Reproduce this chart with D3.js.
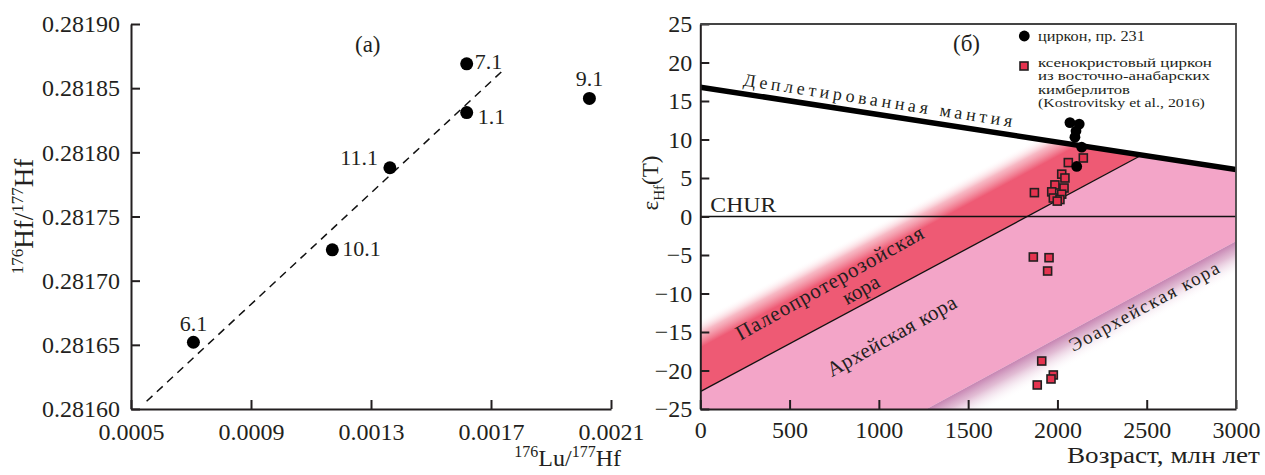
<!DOCTYPE html>
<html><head><meta charset="utf-8">
<script src="https://cdn.jsdelivr.net/npm/d3@7"></script>
<style>
html,body{margin:0;padding:0;background:#fff;}
svg{display:block;font-family:"Liberation Serif","Times New Roman",serif;}
</style></head>
<body>
<svg id="chart" width="1265" height="475"></svg>
<script>
// ---------- Panel (а): 176Lu/177Hf vs 176Hf/177Hf ----------
const spotLabels = ["6.1", "10.1", "11.1", "1.1", "7.1", "9.1"];
const luHf = [0.000708, 0.001171, 0.001363, 0.001619, 0.001619, 0.002028];
const hfHf = [0.281652, 0.281724, 0.281788, 0.281831, 0.281869, 0.281842];
const trendLu = [0.000552, 0.001736];
const trendHf = [0.281606, 0.281863];
const luTicks = [0.0005, 0.0009, 0.0013, 0.0017, 0.0021];
const hfTicks = [0.28160, 0.28165, 0.28170, 0.28175, 0.28180, 0.28185, 0.28190];

// ---------- Panel (б): age vs eHf(T) ----------
const zirconAge = [2070, 2122, 2104, 2098, 2136, 2108];
const zirconEps = [12.2, 12.0, 11.1, 10.3, 9.0, 6.5];
const xenoAge = [2145, 2061, 2024, 2042, 1986, 2037, 1871, 1968, 2024, 1977, 2014, 1999,
                 1865, 1953, 1945, 1912, 1977, 1964, 1887];
const xenoEps = [7.6, 7.0, 5.5, 5.0, 4.1, 3.7, 3.1, 3.2, 2.9, 2.4, 2.2, 2.0,
                 -5.26, -5.35, -7.08, -18.77, -20.58, -21.1, -21.88];
const dmAge = [0, 3000], dmEps = [16.8, 6.1];              // depleted mantle
const churAge = [0, 3000], churEps = [0, 0];              // CHUR
const archAge = [0, 2470], archEps = [-22.75, 7.95];      // Paleoproterozoic / Archean boundary
const eoAge = [1268, 3000], eoEps = [-25, -3.2];          // Archean / Eoarchean boundary
const paleoBandWidth = 9.5;                               // eHf units above Archean boundary
const eoBandWidth = 4.5;
const ageTicks = [0, 500, 1000, 1500, 2000, 2500, 3000];
const epsTicks = [-25, -20, -15, -10, -5, 0, 5, 10, 15, 20, 25];
const legendLabels = [["циркон, пр. 231"],
  ["ксенокристовый циркон", "из восточно-анабарских", "кимберлитов", "(Kostrovitsky et al., 2016)"]];
const regionLabels = ["Деплетированная мантия", "CHUR", "Палеопротерозойская", "кора", "Архейская кора", "Эоархейская кора"];

const ink = "#231f20";
const svg = d3.select("#chart");

function styleAxis(g) {
  g.selectAll("path.domain").attr("stroke", ink).attr("stroke-width", 2);
  g.selectAll(".tick line").attr("stroke", ink).attr("stroke-width", 2);
  g.selectAll(".tick text").attr("font-family", "Liberation Serif, serif").attr("font-size", 24).attr("fill", ink);
}
// text stretched horizontally to a measured width (left-anchored)
function fitText(parent, x, y, txt, size, width) {
  const g = parent.append("g");
  const t = g.append("text").attr("x", 0).attr("y", 0).attr("font-size", size).attr("fill", ink).text(txt);
  const w = t.node().getComputedTextLength() || width;
  g.attr("transform", `translate(${x},${y}) scale(${width / w},1)`);
  return t;
}

// ================= Panel (а) =================
const xL = d3.scaleLinear().domain([0.0005, 0.0021]).range([131, 611]);
const yL = d3.scaleLinear().domain([0.28160, 0.28190]).range([409, 24]);
const gL = svg.append("g");

gL.append("g").attr("transform", `translate(0,${yL.range()[0]})`)
  .call(d3.axisBottom(xL).tickValues(luTicks).tickFormat(d3.format(".4f")).tickSize(-9).tickSizeOuter(0).tickPadding(14))
  .call(styleAxis);
gL.append("g").attr("transform", `translate(${xL.range()[0]},0)`)
  .call(d3.axisLeft(yL).tickValues(hfTicks).tickFormat(d3.format(".5f")).tickSize(-9).tickSizeOuter(0).tickPadding(11))
  .call(styleAxis);

gL.append("line")
  .attr("x1", xL(trendLu[0])).attr("y1", yL(trendHf[0]))
  .attr("x2", xL(trendLu[1])).attr("y2", yL(trendHf[1]))
  .attr("stroke", "#111").attr("stroke-width", 1.5).attr("stroke-dasharray", "8,6");

const ptsL = spotLabels.map((s, i) => ({s, x: luHf[i], y: hfHf[i]}));
gL.selectAll("circle.p").data(ptsL).join("circle")
  .attr("cx", d => xL(d.x)).attr("cy", d => yL(d.y)).attr("r", 6.5).attr("fill", "#000");
const labelPlace = {"6.1": [0, -11, "middle"], "10.1": [10, 6, "start"], "11.1": [-12, -3, "end"],
                    "1.1": [11, 11, "start"], "7.1": [8, 5, "start"], "9.1": [0, -12, "middle"]};
gL.selectAll("text.pl").data(ptsL).join("text")
  .attr("x", d => xL(d.x) + labelPlace[d.s][0]).attr("y", d => yL(d.y) + labelPlace[d.s][1])
  .attr("text-anchor", d => labelPlace[d.s][2])
  .attr("font-size", 22).attr("fill", ink).text(d => d.s);

gL.append("text").attr("x", 355).attr("y", 52).attr("font-size", 23).attr("fill", ink).text("(а)");

// axis titles
const yt = gL.append("text").attr("transform", `translate(33,${(yL.range()[0] + yL.range()[1]) / 2}) rotate(-90)`)
  .attr("text-anchor", "middle").attr("font-size", 27).attr("fill", ink);
yt.append("tspan").attr("font-size", 17).attr("dy", -10).text("176");
yt.append("tspan").attr("dy", 10).text("Hf/");
yt.append("tspan").attr("font-size", 17).attr("dy", -10).text("177");
yt.append("tspan").attr("dy", 10).text("Hf");

const xt = gL.append("text").attr("x", 621).attr("y", 466).attr("text-anchor", "end").attr("font-size", 24).attr("fill", ink);
xt.append("tspan").attr("font-size", 16).attr("dy", -9).text("176");
xt.append("tspan").attr("dy", 9).text("Lu/");
xt.append("tspan").attr("font-size", 16).attr("dy", -9).text("177");
xt.append("tspan").attr("dy", 9).text("Hf");

// ================= Panel (б) =================
const xR = d3.scaleLinear().domain([0, 3000]).range([700.3, 1236]);
const yR = d3.scaleLinear().domain([-25, 25]).range([409, 24]);
const gR = svg.append("g");
const defs = svg.append("defs");
defs.append("clipPath").attr("id", "plotR").append("rect")
  .attr("x", xR(0)).attr("y", yR(25)).attr("width", xR(3000) - xR(0)).attr("height", yR(-25) - yR(25));

const lineVal = (ages, eps, a) => eps[0] + (eps[1] - eps[0]) * (a - ages[0]) / (ages[1] - ages[0]);
const slope = (ages, eps) => (eps[1] - eps[0]) / (ages[1] - ages[0]);
function intersect(aA, aE, bA, bE, shiftA = 0) {
  const sa = slope(aA, aE), sb = slope(bA, bE);
  const ca = aE[0] + shiftA - sa * aA[0], cb = bE[0] - sb * bA[0];
  const x = (cb - ca) / (sa - sb);
  return [x, ca + sa * x];
}
const [xiA, yiA] = intersect(archAge, archEps, dmAge, dmEps);
const [xiT, yiT] = intersect(archAge, archEps, dmAge, dmEps, paleoBandWidth);
const poly = pts => pts.map(p => [xR(p[0]), yR(p[1])].join(",")).join(" ");

const area = gR.append("g").attr("clip-path", "url(#plotR)");

// Archean crust (pink)
area.append("polygon").attr("fill", "#f3a5c8").attr("points", poly([
  [archAge[0], archEps[0]], [xiA, yiA], [dmAge[1], dmEps[1]],
  [eoAge[1], eoEps[1]], [eoAge[0], eoEps[0]], [0, -25]]));

// gradient helper (perpendicular to a line, in pixels)
function perpGradient(id, ages, eps, width, up, stops) {
  const p0 = [xR(ages[0]), yR(eps[0])], p1 = [xR(ages[1]), yR(eps[1])];
  const L = Math.hypot(p1[0] - p0[0], p1[1] - p0[1]);
  const ux = (p1[0] - p0[0]) / L, uy = (p1[1] - p0[1]) / L;
  const V = Math.abs(yR(0) - yR(width));
  const dist = V * ux;
  const n = up ? [uy, -ux] : [-uy, ux];
  const g = defs.append("linearGradient").attr("id", id).attr("gradientUnits", "userSpaceOnUse")
    .attr("x1", p0[0]).attr("y1", p0[1]).attr("x2", p0[0] + n[0] * dist).attr("y2", p0[1] + n[1] * dist);
  stops.forEach(s => g.append("stop").attr("offset", s[0]).attr("stop-color", s[1]).attr("stop-opacity", s[2]));
}
perpGradient("gPaleo", archAge, archEps, paleoBandWidth, true,
  [[0, "#ee5a74", 1], [0.6, "#ee5a74", 1], [0.8, "#f28a9d", 0.6], [1, "#ffffff", 0]]);
perpGradient("gEo", eoAge, eoEps, eoBandWidth, false,
  [[0, "#c684b2", 1], [0.35, "#d8a6c6", 0.75], [1, "#ffffff", 0]]);

// Paleoproterozoic crust band
area.append("polygon").attr("fill", "url(#gPaleo)").attr("points", poly([
  [archAge[0], archEps[0]], [xiA, yiA], [xiT, yiT], [0, archEps[0] + paleoBandWidth]]));
// Eoarchean fade
area.append("polygon").attr("fill", "url(#gEo)").attr("points", poly([
  [eoAge[0], eoEps[0]], [eoAge[1], eoEps[1]], [3000, -25]]));

// boundary lines
area.append("line").attr("x1", xR(archAge[0])).attr("y1", yR(archEps[0])).attr("x2", xR(xiA)).attr("y2", yR(yiA))
  .attr("stroke", "#111").attr("stroke-width", 1.3);
area.append("line").attr("x1", xR(churAge[0])).attr("y1", yR(churEps[0])).attr("x2", xR(churAge[1])).attr("y2", yR(churEps[1]))
  .attr("stroke", "#111").attr("stroke-width", 1.3);
area.append("line").attr("x1", xR(dmAge[0])).attr("y1", yR(dmEps[0])).attr("x2", xR(dmAge[1])).attr("y2", yR(dmEps[1]))
  .attr("stroke", "#000").attr("stroke-width", 5.5);

// region labels
function angleOf(ages, eps) {
  return Math.atan2(yR(eps[1]) - yR(eps[0]), xR(ages[1]) - xR(ages[0])) * 180 / Math.PI;
}
const dmAng = angleOf(dmAge, dmEps);
const dmMid = 983;
{
  const px = xR(dmMid), py = yR(lineVal(dmAge, dmEps, dmMid));
  gR.append("text").attr("transform", `translate(${px},${py}) rotate(${dmAng}) translate(0,-8)`)
    .attr("text-anchor", "middle").attr("font-size", 18).attr("fill", ink)
    .attr("textLength", 272).attr("lengthAdjust", "spacing").text(regionLabels[0]);
}
fitText(gR, xR(0) + 10, yR(0) - 4.5, regionLabels[1], 21, 66);
const archAng = angleOf(archAge, archEps) - 1;
gR.append("text").attr("transform", `translate(833,289) rotate(${archAng})`).attr("text-anchor", "middle")
  .attr("font-size", 21).attr("fill", ink).attr("textLength", 212).text(regionLabels[2]);
gR.append("text").attr("transform", `translate(833,289) rotate(${archAng}) translate(24,21)`).attr("text-anchor", "middle")
  .attr("font-size", 21).attr("fill", ink).text(regionLabels[3]);
gR.append("text").attr("transform", `translate(895,342) rotate(${archAng})`).attr("text-anchor", "middle")
  .attr("font-size", 21).attr("fill", ink).attr("textLength", 145).text(regionLabels[4]);
gR.append("text").attr("transform", `translate(1147,312) rotate(${angleOf(eoAge, eoEps)})`).attr("text-anchor", "middle")
  .attr("font-size", 19).attr("fill", ink).attr("textLength", 168).text(regionLabels[5]);

// data points
const xeno = xenoAge.map((a, i) => [a, xenoEps[i]]);
const zirc = zirconAge.map((a, i) => [a, zirconEps[i]]);
gR.selectAll("rect.x").data(xeno).join("rect")
  .attr("x", d => xR(d[0]) - 4).attr("y", d => yR(d[1]) - 4).attr("width", 8).attr("height", 8)
  .attr("fill", "#e5334f").attr("stroke", ink).attr("stroke-width", 1.6);
gR.selectAll("circle.z").data(zirc).join("circle")
  .attr("cx", d => xR(d[0])).attr("cy", d => yR(d[1])).attr("r", 5.4).attr("fill", "#000");

// axes & frame
gR.append("g").attr("transform", `translate(0,${yR.range()[0]})`)
  .call(d3.axisBottom(xR).tickValues(ageTicks).tickFormat(d3.format("d")).tickSize(-9).tickSizeOuter(0).tickPadding(12))
  .call(styleAxis);
gR.append("g").attr("transform", `translate(${xR.range()[0]},0)`)
  .call(d3.axisLeft(yR).tickValues(epsTicks).tickFormat(d3.format("d")).tickSize(-9).tickSizeOuter(0).tickPadding(8))
  .call(styleAxis);
gR.append("path").attr("d", `M${xR(0)},${yR(25)}H${xR(3000)}V${yR(-25)}`)
  .attr("fill", "none").attr("stroke", "#444").attr("stroke-width", 1.8);

gR.append("text").attr("x", 953).attr("y", 51).attr("font-size", 23).attr("fill", ink).text("(б)");

// legend
const legendLen = [[107], [174, 172, 92, 167]];
gR.append("circle").attr("cx", 1024.3).attr("cy", 36).attr("r", 5.4).attr("fill", "#000");
fitText(gR, 1038, 41, legendLabels[0][0], 15, legendLen[0][0]);
gR.append("rect").attr("x", 1020).attr("y", 62).attr("width", 8).attr("height", 8)
  .attr("fill", "#e5334f").attr("stroke", ink).attr("stroke-width", 1.6);
legendLabels[1].forEach((t, i) => fitText(gR, 1038, 67 + i * 13.4, t, 13.5, legendLen[1][i]));

// axis titles
const et = gR.append("text").attr("transform", `translate(658,183) rotate(-90)`).attr("text-anchor", "middle")
  .attr("font-size", 23).attr("fill", ink);
et.append("tspan").text("ε");
et.append("tspan").attr("font-size", 15).attr("dy", 6).text("Hf");
et.append("tspan").attr("dy", -6).text("(T)");
fitText(gR, 1067, 463, "Возраст, млн лет", 24, 193);
</script>
</body></html>
